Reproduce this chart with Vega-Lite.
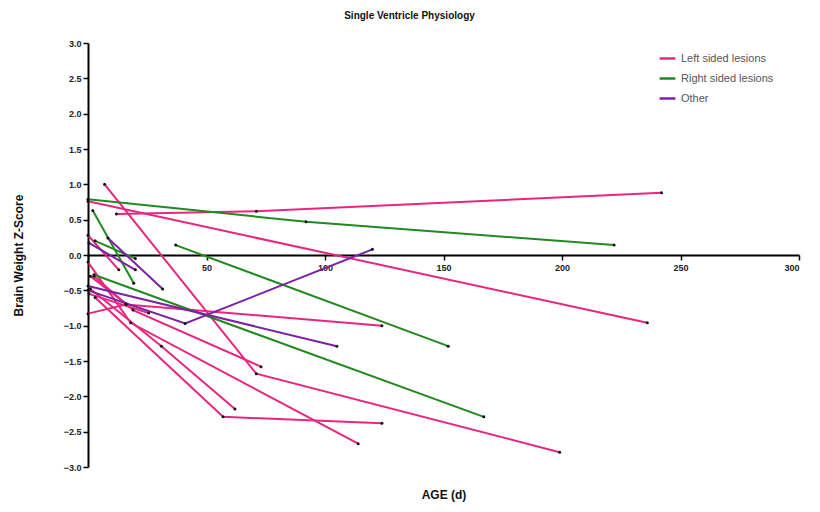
{
  "$schema": "https://vega.github.io/schema/vega-lite/v6.json",
  "width": 711,
  "height": 424,
  "autosize": {"type": "none"},
  "padding": {"left": 88, "top": 43, "right": 21, "bottom": 45},
  "background": "white",
  "config": {"view": {"stroke": null}, "font": "Liberation Sans"},
  "title": {"text": "Single Ventricle Physiology", "fontSize": 10, "fontWeight": "bold", "color": "#111", "anchor": "middle", "dx": -34, "offset": 18},
  "data": {"values": [
    {"id": "L1", "group": "Left sided lesions", "age": 12, "z": 0.58},
    {"id": "L1", "group": "Left sided lesions", "age": 71, "z": 0.62},
    {"id": "L1", "group": "Left sided lesions", "age": 242, "z": 0.88},
    {"id": "L2", "group": "Left sided lesions", "age": 7, "z": 1.0},
    {"id": "L2", "group": "Left sided lesions", "age": 71, "z": -1.68},
    {"id": "L2", "group": "Left sided lesions", "age": 199, "z": -2.79},
    {"id": "L3", "group": "Left sided lesions", "age": 0, "z": 0.76},
    {"id": "L3", "group": "Left sided lesions", "age": 236, "z": -0.96},
    {"id": "L4", "group": "Left sided lesions", "age": 0, "z": -0.83},
    {"id": "L4", "group": "Left sided lesions", "age": 16, "z": -0.7},
    {"id": "L4", "group": "Left sided lesions", "age": 124, "z": -1.0},
    {"id": "L5", "group": "Left sided lesions", "age": 0, "z": 0.28},
    {"id": "L5", "group": "Left sided lesions", "age": 13, "z": -0.21},
    {"id": "L6", "group": "Left sided lesions", "age": 0, "z": -0.1},
    {"id": "L6", "group": "Left sided lesions", "age": 18, "z": -0.96},
    {"id": "L6", "group": "Left sided lesions", "age": 114, "z": -2.67},
    {"id": "L7", "group": "Left sided lesions", "age": 1, "z": -0.48},
    {"id": "L7", "group": "Left sided lesions", "age": 31, "z": -1.29},
    {"id": "L7", "group": "Left sided lesions", "age": 62, "z": -2.18},
    {"id": "L8", "group": "Left sided lesions", "age": 3, "z": -0.6},
    {"id": "L8", "group": "Left sided lesions", "age": 57, "z": -2.29},
    {"id": "L8", "group": "Left sided lesions", "age": 124, "z": -2.38},
    {"id": "L9", "group": "Left sided lesions", "age": 0.4, "z": -0.55},
    {"id": "L9", "group": "Left sided lesions", "age": 25.6, "z": -0.82},
    {"id": "L10", "group": "Left sided lesions", "age": 2.5, "z": -0.3},
    {"id": "L10", "group": "Left sided lesions", "age": 19, "z": -0.78},
    {"id": "L10", "group": "Left sided lesions", "age": 73, "z": -1.58},
    {"id": "L11", "group": "Left sided lesions", "age": 1, "z": -0.3},
    {"id": "L11", "group": "Left sided lesions", "age": 16, "z": -0.69},
    {"id": "R1", "group": "Right sided lesions", "age": 0, "z": 0.79},
    {"id": "R1", "group": "Right sided lesions", "age": 92, "z": 0.47},
    {"id": "R1", "group": "Right sided lesions", "age": 222, "z": 0.14},
    {"id": "R2", "group": "Right sided lesions", "age": 37, "z": 0.14},
    {"id": "R2", "group": "Right sided lesions", "age": 152, "z": -1.29},
    {"id": "R3", "group": "Right sided lesions", "age": 2, "z": 0.63},
    {"id": "R3", "group": "Right sided lesions", "age": 19.3, "z": -0.4},
    {"id": "R4", "group": "Right sided lesions", "age": 2.5, "z": -0.28},
    {"id": "R4", "group": "Right sided lesions", "age": 167, "z": -2.29},
    {"id": "R5", "group": "Right sided lesions", "age": 3, "z": 0.2},
    {"id": "R5", "group": "Right sided lesions", "age": 20, "z": -0.05},
    {"id": "O1", "group": "Other", "age": 0, "z": -0.5},
    {"id": "O1", "group": "Other", "age": 41, "z": -0.97},
    {"id": "O1", "group": "Other", "age": 120, "z": 0.08},
    {"id": "O2", "group": "Other", "age": 0, "z": -0.44},
    {"id": "O2", "group": "Other", "age": 105, "z": -1.29},
    {"id": "O3", "group": "Other", "age": 8.4, "z": 0.24},
    {"id": "O3", "group": "Other", "age": 31.5, "z": -0.48},
    {"id": "O4", "group": "Other", "age": 0.4, "z": 0.17},
    {"id": "O4", "group": "Other", "age": 20, "z": -0.21}
  ]},
  "encoding": {
    "x": {"field": "age", "type": "quantitative",
      "scale": {"domain": [0, 300], "nice": false},
      "axis": {"values": [0, 50, 100, 150, 200, 250, 300], "offset": -212, "domainColor": "#000", "domainWidth": 2, "tickColor": "#000", "tickWidth": 1.5, "tickSize": 5, "labelExpr": "datum.value == 0 ? '' : datum.label", "labelFontSize": 9, "labelFontWeight": "bold", "labelColor": "#222", "labelPadding": 3, "grid": false,
        "title": "AGE (d)", "titleFontSize": 12, "titleFontWeight": "bold", "titleColor": "#111", "titleY": 234}},
    "y": {"field": "z", "type": "quantitative",
      "scale": {"domain": [-3, 3], "nice": false},
      "axis": {"values": [-3, -2.5, -2, -1.5, -1, -0.5, 0, 0.5, 1, 1.5, 2, 2.5, 3], "format": ".1f", "domainColor": "#000", "domainWidth": 2, "tickColor": "#000", "tickWidth": 1.5, "tickSize": 5, "labelFontSize": 9, "labelFontWeight": "bold", "labelColor": "#222", "labelPadding": 2, "grid": false,
        "title": "Brain Weight Z-Score", "titleFontSize": 12, "titleFontWeight": "bold", "titleColor": "#111", "titlePadding": 38}}
  },
  "layer": [
    {"mark": {"type": "line", "strokeWidth": 2},
     "encoding": {
       "detail": {"field": "id"},
       "color": {"field": "group", "type": "nominal",
         "scale": {"domain": ["Left sided lesions", "Right sided lesions", "Other"], "range": ["#e8267f", "#208a20", "#7b22a3"]},
         "legend": {"title": null, "orient": "none", "legendX": 570, "legendY": 6, "symbolType": "stroke", "symbolStrokeWidth": 2.5, "symbolSize": 250, "labelFontSize": 11, "labelColor": "#555", "rowPadding": 5}}
     }},
    {"mark": {"type": "point", "filled": true, "size": 9, "color": "#111", "opacity": 1}}
  ]
}
